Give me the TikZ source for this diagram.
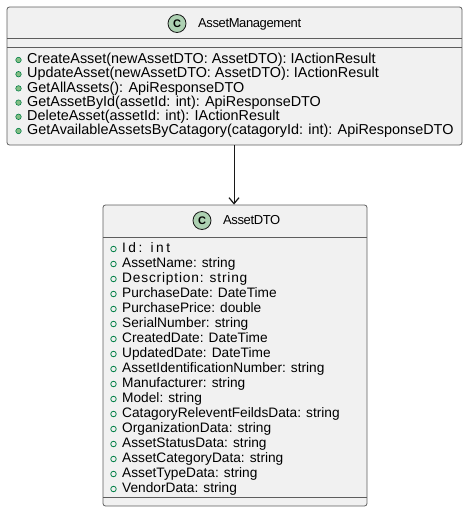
\documentclass[tikz,border=0pt]{standalone}
\usepackage{fontspec}
\setmainfont{Liberation Sans}
\usetikzlibrary{arrows.meta}
\definecolor{boxfill}{HTML}{F1F1F1}
\definecolor{boxline}{HTML}{181818}
\definecolor{cfill}{HTML}{ADD1B2}
\definecolor{bulletline}{HTML}{038048}
\definecolor{bulletfill}{HTML}{84BE84}
\tikzset{
  x=1pt, y=-1pt,
  classbox/.style={draw=boxline!70, fill=boxfill, rounded corners=2.5pt, line width=0.8pt, inner sep=0pt},
  sepline/.style={draw=boxline!70, line width=0.8pt},
  cicon/.style={circle, draw=boxline, fill=cfill, line width=0.8pt, minimum size=18pt, inner sep=0pt, font=\fontsize{11}{11}\selectfont\bfseries},
  title/.style={anchor=west, inner sep=0pt, font=\fontsize{13}{14}\selectfont\addfontfeature{LetterSpace=-3}, text height=9.5pt, text depth=2.5pt},
  member/.style={anchor=west, inner sep=0pt, font=\fontsize{14.4}{15}\selectfont, text height=10pt, text depth=2.5pt},
  attr/.style={anchor=west, inner sep=0pt, font=\fontsize{13.7}{15}\selectfont, text height=10pt, text depth=2.5pt},
  mbullet/.style={circle, draw=bulletline, fill=bulletfill, line width=0.6pt, minimum size=5.5pt, inner sep=0pt},
  abullet/.style={circle, draw=bulletline, fill=none, line width=0.8pt, minimum size=5.5pt, inner sep=0pt},
  assoc/.style={draw=boxline, line width=0.9pt, -{Straight Barb[length=6pt,width=10pt,line width=1.2pt]}}
}
\begin{document}
\begin{tikzpicture}
\useasboundingbox (0,0) rectangle (469,514);
% AssetManagement
\node[classbox, minimum width=455pt, minimum height=138pt] (am) at (234.5,76) {};
\draw[sepline] (7,38) -- (462,38);
\draw[sepline] (7,47) -- (462,47);
\node[cicon] (amc) at (177,23.5) {C};
\node[title] (amt) at (198,24) {AssetManagement};
\foreach \i/\t in {0/{CreateAsset(newAssetDTO: AssetDTO): IActionResult},
                   1/{UpdateAsset(newAssetDTO: AssetDTO): IActionResult},
                   2/{GetAllAssets(): ApiResponseDTO},
                   3/{GetAssetById(assetId: int): ApiResponseDTO},
                   4/{DeleteAsset(assetId: int): IActionResult},
                   5/{GetAvailableAssetsByCatagory(catagoryId: int): ApiResponseDTO}}{
  \node[mbullet] (amb\i) at (18.5,60+14.2*\i) {};
  \node[member] (amm\i) at (27,60+14.2*\i) {\t};
}
% AssetDTO
\node[classbox, minimum width=264pt, minimum height=301pt] (dto) at (235,355.5) {};
\draw[sepline] (103,237) -- (367,237);
\draw[sepline] (103,497) -- (367,497);
\node[cicon] (dtoc) at (202,220.5) {C};
\node[title] (dtot) at (223,221) {AssetDTO};
\foreach \i/\t in {0/{\addfontfeature{LetterSpace=18}Id: int},
                   1/{AssetName: string},
                   2/{\addfontfeature{LetterSpace=6}Description: string},
                   3/{PurchaseDate: DateTime},
                   4/{PurchasePrice: double},
                   5/{SerialNumber: string},
                   6/{CreatedDate: DateTime},
                   7/{UpdatedDate: DateTime},
                   8/{AssetIdentificationNumber: string},
                   9/{Manufacturer: string},
                   10/{Model: string},
                   11/{CatagoryReleventFeildsData: string},
                   12/{OrganizationData: string},
                   13/{AssetStatusData: string},
                   14/{AssetCategoryData: string},
                   15/{AssetTypeData: string},
                   16/{VendorData: string}}{
  \node[abullet] (dtob\i) at (113.5,249+15*\i) {};
  \node[attr] (dtom\i) at (122,249+15*\i) {\t};
}
\draw[assoc] (am.south -| 234,0) -- (dto.north -| 234,0);
\end{tikzpicture}
\end{document}
